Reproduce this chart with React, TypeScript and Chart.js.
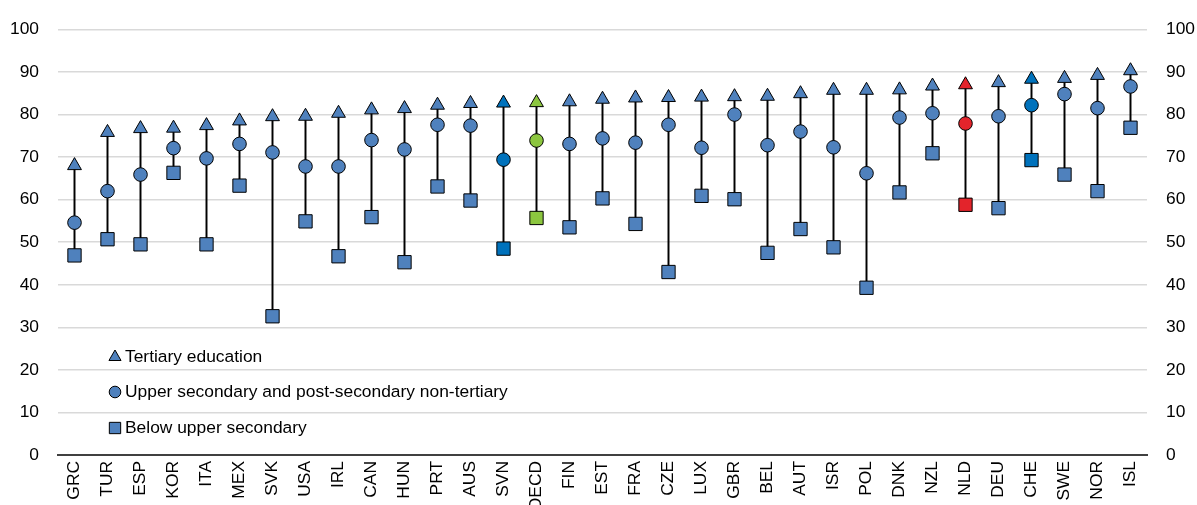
import React, { useEffect, useRef } from "react";
import { Chart, registerables } from "chart.js";

Chart.register(...registerables);

const categories = ["GRC","TUR","ESP","KOR","ITA","MEX","SVK","USA","IRL","CAN","HUN","PRT","AUS","SVN","OECD","FIN","EST","FRA","CZE","LUX","GBR","BEL","AUT","ISR","POL","DNK","NZL","NLD","DEU","CHE","SWE","NOR","ISL"];

const tertiary = [68.0,75.8,76.7,76.8,77.4,78.5,79.5,79.6,80.3,81.1,81.4,82.2,82.6,82.7,82.8,83.0,83.6,83.9,84.0,84.1,84.2,84.3,84.9,85.7,85.7,85.8,86.7,87.0,87.5,88.3,88.5,89.2,90.3];
const upperSecondary = [54.6,62.0,65.9,72.1,69.7,73.1,71.1,67.8,67.8,74.0,71.8,77.6,77.4,69.4,73.9,73.1,74.4,73.4,77.6,72.2,80.0,72.8,76.0,72.3,66.2,79.3,80.3,77.9,79.6,82.2,84.8,81.5,86.6];
const belowUpper = [46.9,50.7,49.5,66.3,49.5,63.3,32.6,54.9,46.7,55.9,45.3,63.1,59.8,48.5,55.7,53.5,60.3,54.3,43.0,60.9,60.1,47.5,53.1,48.8,39.3,61.7,70.9,58.8,58.0,69.3,65.9,62.0,76.9];

const seriesNames = ["Tertiary education","Upper secondary and post-secondary non-tertiary","Below upper secondary"];
const yTicks = [0,10,20,30,40,50,60,70,80,90,100];

const BLUE = "#4f81bd";
const DARK_BLUE = "#0072bc";
const GREEN = "#8cc63f";
const RED = "#e3242b";
const highlight: Record<string, string> = { SVN: DARK_BLUE, OECD: GREEN, NLD: RED, CHE: DARK_BLUE };
const pointColors = categories.map((c) => highlight[c] || BLUE);

const FONT = "'Liberation Sans', Arial, sans-serif";
const FS = 17.4;

const legendPlugin = {
  id: "insideLegend",
  afterDraw(chart: any) {
    const ctx = chart.ctx;
    const items = [
      { style: "triangle", r: 7, y: 357 },
      { style: "circle", r: 5.8, y: 392 },
      { style: "rect", r: 8, y: 428 },
    ];
    ctx.save();
    items.forEach((it, i) => {
      const x = 115;
      const y = it.y;
      ctx.beginPath();
      ctx.fillStyle = BLUE;
      ctx.strokeStyle = "#000";
      ctx.lineWidth = 1;
      if (it.style === "triangle") {
        const r = it.r;
        ctx.moveTo(x, y - r);
        ctx.lineTo(x + r * Math.sin((2 * Math.PI) / 3), y + r / 2);
        ctx.lineTo(x - r * Math.sin((2 * Math.PI) / 3), y + r / 2);
        ctx.closePath();
      } else if (it.style === "circle") {
        ctx.arc(x, y, it.r, 0, Math.PI * 2);
      } else {
        const s = it.r * Math.SQRT1_2;
        ctx.rect(x - s, y - s, 2 * s, 2 * s);
      }
      ctx.fill();
      ctx.stroke();
      ctx.fillStyle = "#000";
      ctx.font = `${FS}px ${FONT}`;
      ctx.textBaseline = "middle";
      ctx.textAlign = "left";
      ctx.fillText(seriesNames[i], 125, y);
    });
    ctx.restore();
  },
};

export default function App() {
  const ref = useRef<HTMLCanvasElement | null>(null);

  useEffect(() => {
    if (!ref.current) return;
    const ranges = categories.map((_, i) => {
      const vals = [tertiary[i], upperSecondary[i], belowUpper[i]];
      return [Math.min(...vals), Math.max(...vals)];
    });
    const chart = new Chart(ref.current, {
      type: "bar",
      data: {
        labels: categories,
        datasets: [
          {
            type: "bar",
            label: "range",
            data: ranges as any,
            backgroundColor: "#000",
            borderWidth: 0,
            barThickness: 1.3,
            order: 10,
          } as any,
          {
            type: "line",
            label: seriesNames[2],
            data: belowUpper,
            showLine: false,
            pointStyle: "rect",
            pointRadius: 9.4,
            pointBackgroundColor: pointColors,
            pointBorderColor: "#000",
            pointBorderWidth: 1,
            order: 3,
          },
          {
            type: "line",
            label: seriesNames[1],
            data: upperSecondary,
            showLine: false,
            pointStyle: "circle",
            pointRadius: 6.8,
            pointBackgroundColor: pointColors,
            pointBorderColor: "#000",
            pointBorderWidth: 1,
            order: 2,
          },
          {
            type: "line",
            label: seriesNames[0],
            data: tertiary,
            showLine: false,
            pointStyle: "triangle",
            pointRadius: 8,
            pointBackgroundColor: pointColors,
            pointBorderColor: "#000",
            pointBorderWidth: 1,
            order: 1,
          },
        ],
      },
      options: {
        responsive: false,
        animation: false,
        layout: { padding: { top: 28, left: 0, right: 0, bottom: 0 } },
        plugins: { legend: { display: false }, tooltip: { enabled: false } },
        scales: {
          x: {
            offset: true,
            grid: { display: false, drawTicks: false },
            border: { display: true, color: "#404040", width: 2 },
            ticks: {
              autoSkip: false,
              maxRotation: 90,
              minRotation: 90,
              padding: 6,
              color: "#000",
              font: { family: FONT, size: FS },
            },
            afterFit(scale: any) {
              scale.height = 50;
            },
          },
          y: {
            position: "left",
            min: 0,
            max: 100,
            afterBuildTicks(scale: any) {
              scale.ticks = yTicks.map((v) => ({ value: v }));
            },
            grid: { color: "#d9d9d9", lineWidth: 1.5, drawTicks: false },
            border: { display: false },
            ticks: { padding: 19, color: "#000", font: { family: FONT, size: FS } },
            afterFit(scale: any) {
              scale.width = 58;
            },
          },
          y2: {
            position: "right",
            min: 0,
            max: 100,
            afterBuildTicks(scale: any) {
              scale.ticks = yTicks.map((v) => ({ value: v }));
            },
            grid: { display: false, drawTicks: false },
            border: { display: false },
            ticks: { padding: 19, color: "#000", font: { family: FONT, size: FS } },
            afterFit(scale: any) {
              scale.width = 50;
            },
          },
        },
      } as any,
      plugins: [legendPlugin],
    });
    return () => chart.destroy();
  }, []);

  return (
    <div style={{ position: "fixed", left: 0, top: 0, width: 1197, height: 505, background: "#fff" }}>
      <canvas ref={ref} width={1197} height={505} style={{ display: "block" }} />
    </div>
  );
}
